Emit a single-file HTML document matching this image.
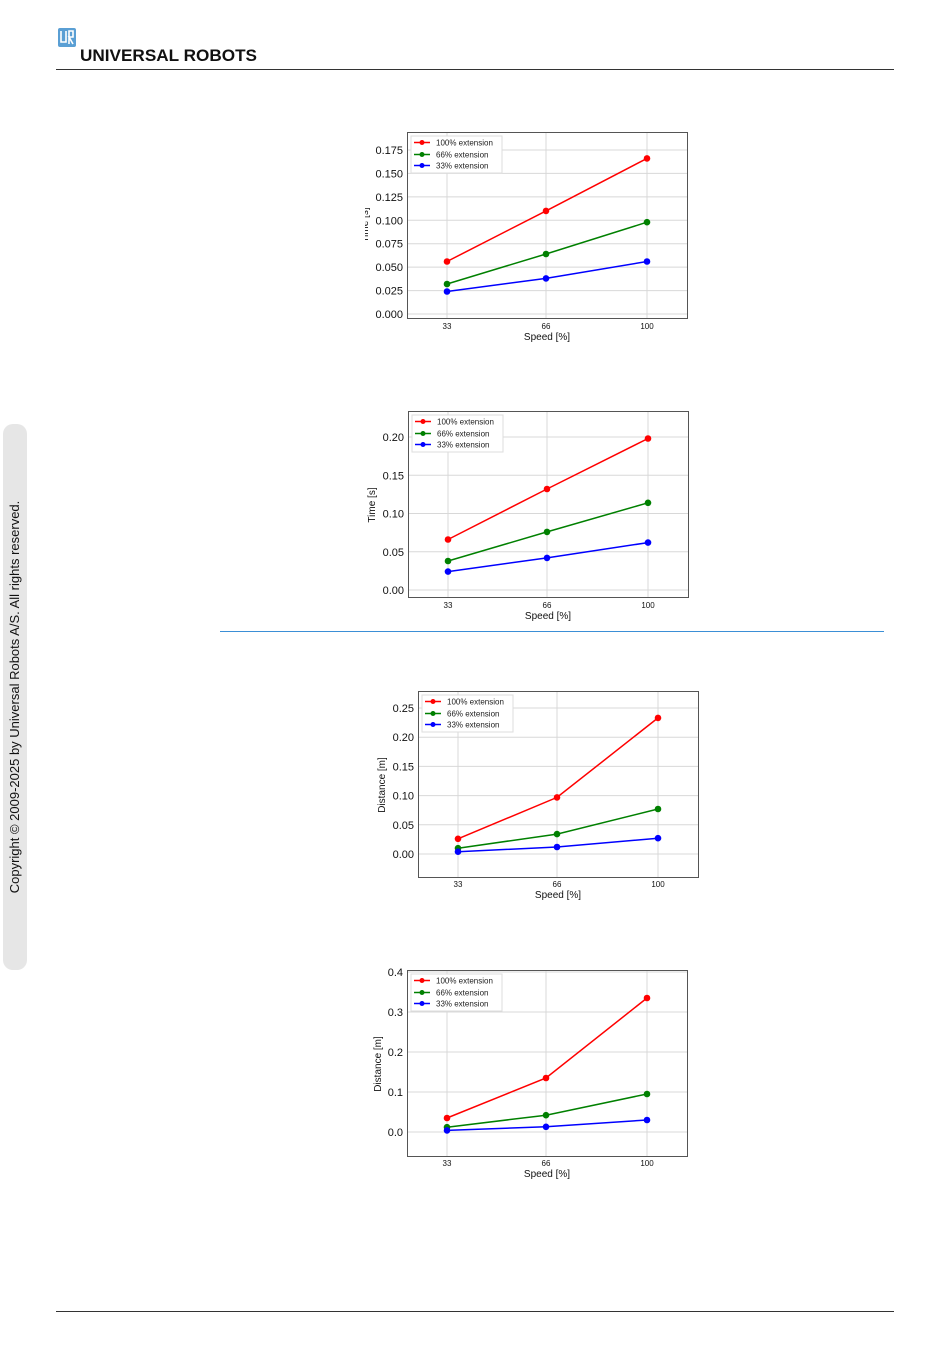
<!DOCTYPE html>
<html><head><meta charset="utf-8"><style>
body{margin:0;background:#fff;width:950px;height:1369px;overflow:hidden}
svg{display:block}
text{font-family:"Liberation Sans","DejaVu Sans",sans-serif}
.g{stroke:#d8d8d8;stroke-width:1}
.ax{fill:none;stroke:#555;stroke-width:1}
.yt{font-size:11px;fill:#111;text-anchor:end}
.xt{font-size:8px;fill:#111;text-anchor:middle}
.lb{font-size:10px;fill:#111;text-anchor:middle}
.lg{font-size:8px;fill:#222}
</style></head><body>
<svg width="950" height="1369" viewBox="0 0 950 1369">
<!-- header -->
<rect x="58" y="28" width="18" height="19" rx="2" fill="#5a9fd4"/>
<path d="M61,31 V42 H66 V31 M69,44 V31 H73 V37 H69 L73,44" fill="none" stroke="#fff" stroke-width="1.6"/>
<text x="80" y="61" font-size="16.5" font-weight="bold" fill="#111" textLength="177" lengthAdjust="spacingAndGlyphs">UNIVERSAL ROBOTS</text>
<line x1="56" y1="69.5" x2="894" y2="69.5" stroke="#333" stroke-width="1"/>
<line x1="56" y1="1311.5" x2="894" y2="1311.5" stroke="#333" stroke-width="1"/>
<rect x="220" y="631" width="664" height="1" fill="#3b8fd6"/>
<!-- sidebar -->
<rect x="3" y="424" width="24" height="546" rx="10" fill="#e6e6e6"/>
<text transform="translate(19,697) rotate(-90)" font-size="13" fill="#111" text-anchor="middle">Copyright © 2009-2025 by Universal Robots A/S. All rights reserved.</text>

<!-- Chart 1 -->
<g>
<line class="g" x1="447" y1="132" x2="447" y2="318"/><line class="g" x1="546" y1="132" x2="546" y2="318"/><line class="g" x1="647" y1="132" x2="647" y2="318"/>
<line class="g" x1="407" y1="314" x2="687" y2="314"/><line class="g" x1="407" y1="290.6" x2="687" y2="290.6"/><line class="g" x1="407" y1="267.1" x2="687" y2="267.1"/><line class="g" x1="407" y1="243.7" x2="687" y2="243.7"/><line class="g" x1="407" y1="220.3" x2="687" y2="220.3"/><line class="g" x1="407" y1="196.9" x2="687" y2="196.9"/><line class="g" x1="407" y1="173.4" x2="687" y2="173.4"/><line class="g" x1="407" y1="150" x2="687" y2="150"/>
<rect class="ax" x="407.5" y="132.5" width="280" height="186"/>
<text class="yt" x="403" y="318">0.000</text><text class="yt" x="403" y="294.6">0.025</text><text class="yt" x="403" y="271.1">0.050</text><text class="yt" x="403" y="247.7">0.075</text><text class="yt" x="403" y="224.3">0.100</text><text class="yt" x="403" y="200.9">0.125</text><text class="yt" x="403" y="177.4">0.150</text><text class="yt" x="403" y="154">0.175</text>
<text class="xt" x="447" y="329">33</text><text class="xt" x="546" y="329">66</text><text class="xt" x="647" y="329">100</text>
<text class="lb" x="547" y="340">Speed [%]</text>
<text class="lb" transform="translate(368,225) rotate(-90)">Time [s]</text>
<polyline fill="none" stroke="red" stroke-width="1.5" points="447,261.5 546,210.9 647,158.4"/>
<polyline fill="none" stroke="green" stroke-width="1.5" points="447,284 546,254 647,222.2"/>
<polyline fill="none" stroke="blue" stroke-width="1.5" points="447,291.5 546,278.4 647,261.5"/>
<g fill="red"><circle cx="447" cy="261.5" r="3.3"/><circle cx="546" cy="210.9" r="3.3"/><circle cx="647" cy="158.4" r="3.3"/></g>
<g fill="green"><circle cx="447" cy="284" r="3.3"/><circle cx="546" cy="254" r="3.3"/><circle cx="647" cy="222.2" r="3.3"/></g>
<g fill="blue"><circle cx="447" cy="291.5" r="3.3"/><circle cx="546" cy="278.4" r="3.3"/><circle cx="647" cy="261.5" r="3.3"/></g>
<rect x="411" y="136" width="91" height="37" fill="#fff" stroke="#ddd"/>
<line x1="414" y1="142.5" x2="430" y2="142.5" stroke="red" stroke-width="1.5"/><circle cx="422" cy="142.5" r="2.5" fill="red"/><text class="lg" x="436" y="145.5">100% extension</text>
<line x1="414" y1="154.5" x2="430" y2="154.5" stroke="green" stroke-width="1.5"/><circle cx="422" cy="154.5" r="2.5" fill="green"/><text class="lg" x="436" y="157.5">66% extension</text>
<line x1="414" y1="165.5" x2="430" y2="165.5" stroke="blue" stroke-width="1.5"/><circle cx="422" cy="165.5" r="2.5" fill="blue"/><text class="lg" x="436" y="168.5">33% extension</text>
</g>
<rect x="355" y="200" width="10" height="50" fill="#fff"/>

<!-- Chart 2 -->
<g>
<line class="g" x1="448" y1="411" x2="448" y2="597"/><line class="g" x1="547" y1="411" x2="547" y2="597"/><line class="g" x1="648" y1="411" x2="648" y2="597"/>
<line class="g" x1="408" y1="590" x2="688" y2="590"/><line class="g" x1="408" y1="551.75" x2="688" y2="551.75"/><line class="g" x1="408" y1="513.5" x2="688" y2="513.5"/><line class="g" x1="408" y1="475.25" x2="688" y2="475.25"/><line class="g" x1="408" y1="437" x2="688" y2="437"/>
<rect class="ax" x="408.5" y="411.5" width="280" height="186"/>
<text class="yt" x="404" y="594">0.00</text><text class="yt" x="404" y="555.75">0.05</text><text class="yt" x="404" y="517.5">0.10</text><text class="yt" x="404" y="479.25">0.15</text><text class="yt" x="404" y="441">0.20</text>
<text class="xt" x="448" y="608">33</text><text class="xt" x="547" y="608">66</text><text class="xt" x="648" y="608">100</text>
<text class="lb" x="548" y="619">Speed [%]</text>
<text class="lb" transform="translate(375,505) rotate(-90)">Time [s]</text>
<polyline fill="none" stroke="red" stroke-width="1.5" points="448,539.5 547,489 648,438.5"/>
<polyline fill="none" stroke="green" stroke-width="1.5" points="448,561 547,531.9 648,502.8"/>
<polyline fill="none" stroke="blue" stroke-width="1.5" points="448,571.6 547,557.9 648,542.6"/>
<g fill="red"><circle cx="448" cy="539.5" r="3.3"/><circle cx="547" cy="489" r="3.3"/><circle cx="648" cy="438.5" r="3.3"/></g>
<g fill="green"><circle cx="448" cy="561" r="3.3"/><circle cx="547" cy="531.9" r="3.3"/><circle cx="648" cy="502.8" r="3.3"/></g>
<g fill="blue"><circle cx="448" cy="571.6" r="3.3"/><circle cx="547" cy="557.9" r="3.3"/><circle cx="648" cy="542.6" r="3.3"/></g>
<rect x="412" y="415" width="91" height="37" fill="#fff" stroke="#ddd"/>
<line x1="415" y1="421.5" x2="431" y2="421.5" stroke="red" stroke-width="1.5"/><circle cx="423" cy="421.5" r="2.5" fill="red"/><text class="lg" x="437" y="424.5">100% extension</text>
<line x1="415" y1="433.5" x2="431" y2="433.5" stroke="green" stroke-width="1.5"/><circle cx="423" cy="433.5" r="2.5" fill="green"/><text class="lg" x="437" y="436.5">66% extension</text>
<line x1="415" y1="444.5" x2="431" y2="444.5" stroke="blue" stroke-width="1.5"/><circle cx="423" cy="444.5" r="2.5" fill="blue"/><text class="lg" x="437" y="447.5">33% extension</text>
</g>

<!-- Chart 3 -->
<g>
<line class="g" x1="458" y1="691" x2="458" y2="877"/><line class="g" x1="557" y1="691" x2="557" y2="877"/><line class="g" x1="658" y1="691" x2="658" y2="877"/>
<line class="g" x1="418" y1="854" x2="698" y2="854"/><line class="g" x1="418" y1="824.8" x2="698" y2="824.8"/><line class="g" x1="418" y1="795.6" x2="698" y2="795.6"/><line class="g" x1="418" y1="766.4" x2="698" y2="766.4"/><line class="g" x1="418" y1="737.2" x2="698" y2="737.2"/><line class="g" x1="418" y1="708" x2="698" y2="708"/>
<rect class="ax" x="418.5" y="691.5" width="280" height="186"/>
<text class="yt" x="414" y="858">0.00</text><text class="yt" x="414" y="828.8">0.05</text><text class="yt" x="414" y="799.6">0.10</text><text class="yt" x="414" y="770.4">0.15</text><text class="yt" x="414" y="741.2">0.20</text><text class="yt" x="414" y="712">0.25</text>
<text class="xt" x="458" y="887">33</text><text class="xt" x="557" y="887">66</text><text class="xt" x="658" y="887">100</text>
<text class="lb" x="558" y="898">Speed [%]</text>
<text class="lb" transform="translate(385,785) rotate(-90)">Distance [m]</text>
<polyline fill="none" stroke="red" stroke-width="1.5" points="458,838.8 557,797.4 658,717.9"/>
<polyline fill="none" stroke="green" stroke-width="1.5" points="458,848.2 557,834.1 658,809"/>
<polyline fill="none" stroke="blue" stroke-width="1.5" points="458,851.7 557,847 658,838.2"/>
<g fill="red"><circle cx="458" cy="838.8" r="3.3"/><circle cx="557" cy="797.4" r="3.3"/><circle cx="658" cy="717.9" r="3.3"/></g>
<g fill="green"><circle cx="458" cy="848.2" r="3.3"/><circle cx="557" cy="834.1" r="3.3"/><circle cx="658" cy="809" r="3.3"/></g>
<g fill="blue"><circle cx="458" cy="851.7" r="3.3"/><circle cx="557" cy="847" r="3.3"/><circle cx="658" cy="838.2" r="3.3"/></g>
<rect x="422" y="695" width="91" height="37" fill="#fff" stroke="#ddd"/>
<line x1="425" y1="701.5" x2="441" y2="701.5" stroke="red" stroke-width="1.5"/><circle cx="433" cy="701.5" r="2.5" fill="red"/><text class="lg" x="447" y="704.5">100% extension</text>
<line x1="425" y1="713.5" x2="441" y2="713.5" stroke="green" stroke-width="1.5"/><circle cx="433" cy="713.5" r="2.5" fill="green"/><text class="lg" x="447" y="716.5">66% extension</text>
<line x1="425" y1="724.5" x2="441" y2="724.5" stroke="blue" stroke-width="1.5"/><circle cx="433" cy="724.5" r="2.5" fill="blue"/><text class="lg" x="447" y="727.5">33% extension</text>
</g>

<!-- Chart 4 -->
<g>
<line class="g" x1="447" y1="970" x2="447" y2="1156"/><line class="g" x1="546" y1="970" x2="546" y2="1156"/><line class="g" x1="647" y1="970" x2="647" y2="1156"/>
<line class="g" x1="407" y1="1132" x2="687" y2="1132"/><line class="g" x1="407" y1="1092" x2="687" y2="1092"/><line class="g" x1="407" y1="1052" x2="687" y2="1052"/><line class="g" x1="407" y1="1012" x2="687" y2="1012"/><line class="g" x1="407" y1="972" x2="687" y2="972"/>
<rect class="ax" x="407.5" y="970.5" width="280" height="186"/>
<text class="yt" x="403" y="1136">0.0</text><text class="yt" x="403" y="1096">0.1</text><text class="yt" x="403" y="1056">0.2</text><text class="yt" x="403" y="1016">0.3</text><text class="yt" x="403" y="976">0.4</text>
<text class="xt" x="447" y="1166">33</text><text class="xt" x="546" y="1166">66</text><text class="xt" x="647" y="1166">100</text>
<text class="lb" x="547" y="1177">Speed [%]</text>
<text class="lb" transform="translate(381,1064) rotate(-90)">Distance [m]</text>
<polyline fill="none" stroke="red" stroke-width="1.5" points="447,1118 546,1078 647,998"/>
<polyline fill="none" stroke="green" stroke-width="1.5" points="447,1127.2 546,1115.2 647,1094"/>
<polyline fill="none" stroke="blue" stroke-width="1.5" points="447,1130.4 546,1126.8 647,1120"/>
<g fill="red"><circle cx="447" cy="1118" r="3.3"/><circle cx="546" cy="1078" r="3.3"/><circle cx="647" cy="998" r="3.3"/></g>
<g fill="green"><circle cx="447" cy="1127.2" r="3.3"/><circle cx="546" cy="1115.2" r="3.3"/><circle cx="647" cy="1094" r="3.3"/></g>
<g fill="blue"><circle cx="447" cy="1130.4" r="3.3"/><circle cx="546" cy="1126.8" r="3.3"/><circle cx="647" cy="1120" r="3.3"/></g>
<rect x="411" y="974" width="91" height="37" fill="#fff" stroke="#ddd"/>
<line x1="414" y1="980.5" x2="430" y2="980.5" stroke="red" stroke-width="1.5"/><circle cx="422" cy="980.5" r="2.5" fill="red"/><text class="lg" x="436" y="983.5">100% extension</text>
<line x1="414" y1="992.5" x2="430" y2="992.5" stroke="green" stroke-width="1.5"/><circle cx="422" cy="992.5" r="2.5" fill="green"/><text class="lg" x="436" y="995.5">66% extension</text>
<line x1="414" y1="1003.5" x2="430" y2="1003.5" stroke="blue" stroke-width="1.5"/><circle cx="422" cy="1003.5" r="2.5" fill="blue"/><text class="lg" x="436" y="1006.5">33% extension</text>
</g>
</svg>
</body></html>
